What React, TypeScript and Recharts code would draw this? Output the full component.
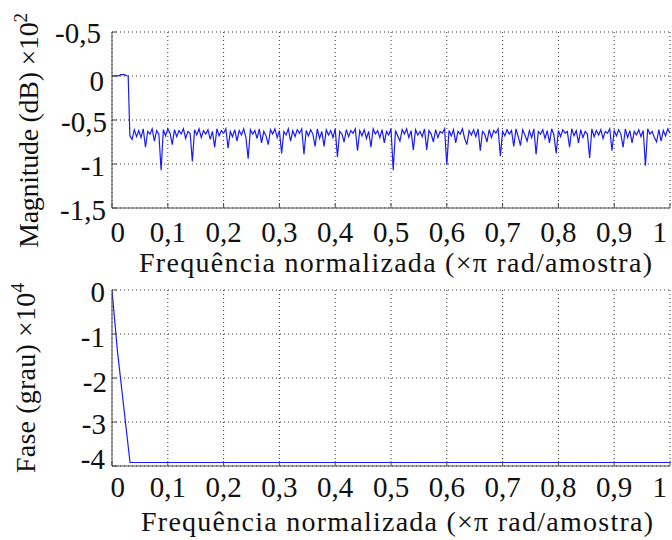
import React from 'react';
import { LineChart, Line, XAxis, YAxis, CartesianGrid } from 'recharts';

// frequency axis (×π rad/amostra)
const freqTicks = [0, 0.1, 0.2, 0.3, 0.4, 0.5, 0.6, 0.7, 0.8, 0.9, 1];
const freqTickLabels = ['0', '0,1', '0,2', '0,3', '0,4', '0,5', '0,6', '0,7', '0,8', '0,9', '1'];

// magnitude axis (dB ×10^2)
const magTicks = [0.5, 0, -0.5, -1, -1.5];
const magTickLabels = ['-0,5', '0', '-0,5', '-1', '-1,5'];

// phase axis (grau ×10^4)
const phaseTicks = [0, -1, -2, -3, -4];
const phaseTickLabels = ['0', '-1', '-2', '-3', '-4'];

// passband samples
const passFreq = [0, 0.012, 0.016, 0.022, 0.027, 0.029];
const passMag = [0.002, 0.002, 0.015, 0.015, 0.003, 0.0];

// stopband samples, every 0.004 starting at 0.032
const stopStart = 0.032;
const stopStep = 0.004;
const stopMag = [
  -0.68, -0.72, -0.61, -0.69, -0.62, -0.70, -0.60, -0.81, -0.63, -0.66,
  -0.60, -0.74, -0.62, -0.66, -1.07, -0.61, -0.68, -0.60, -0.65, -0.78,
  -0.61, -0.69, -0.62, -0.66, -0.60, -0.71, -0.63, -0.65, -0.97, -0.61,
  -0.67, -0.60, -0.70, -0.62, -0.66, -0.61, -0.72, -0.63, -0.81, -0.60,
  -0.68, -0.62, -0.65, -0.60, -0.82, -0.63, -0.69, -0.61, -0.74, -0.62,
  -0.67, -0.60, -0.70, -0.94, -0.61, -0.66, -0.62, -0.71, -0.60, -0.76,
  -0.63, -0.68, -0.78, -0.61, -0.66, -0.60, -0.70, -0.62, -0.88, -0.63,
  -0.67, -0.60, -0.74, -0.62, -0.69, -0.61, -0.65, -0.60, -0.89, -0.62,
  -0.68, -0.61, -0.66, -0.80, -0.60, -0.71, -0.63, -0.80, -0.61, -0.67,
  -0.62, -0.70, -0.60, -0.92, -0.63, -0.66, -0.75, -0.61, -0.69, -0.62,
  -0.65, -0.60, -0.85, -0.62, -0.68, -0.61, -0.71, -0.63, -0.81, -0.60,
  -0.66, -0.62, -0.70, -0.61, -0.76, -0.63, -0.67, -0.60, -1.07, -0.62,
  -0.68, -0.74, -0.61, -0.66, -0.60, -0.70, -0.62, -0.84, -0.61, -0.67,
  -0.63, -0.69, -0.60, -0.84, -0.62, -0.66, -0.75, -0.61, -0.70, -0.63,
  -0.65, -0.60, -1.01, -0.62, -0.68, -0.61, -0.76, -0.63, -0.66, -0.60,
  -0.71, -0.78, -0.62, -0.67, -0.61, -0.69, -0.60, -0.85, -0.63, -0.66,
  -0.75, -0.61, -0.70, -0.62, -0.65, -0.60, -0.91, -0.63, -0.68, -0.61,
  -0.66, -0.62, -0.80, -0.60, -0.69, -0.79, -0.61, -0.67, -0.74, -0.62,
  -0.70, -0.60, -0.89, -0.63, -0.66, -0.61, -0.71, -0.62, -0.76, -0.60,
  -0.67, -0.88, -0.62, -0.69, -0.61, -0.65, -0.63, -0.81, -0.60, -0.68,
  -0.62, -0.76, -0.61, -0.70, -0.63, -0.66, -0.93, -0.60, -0.69, -0.62,
  -0.67, -0.61, -0.71, -0.63, -0.65, -0.60, -0.85, -0.62, -0.68, -0.61,
  -0.66, -0.81, -0.60, -0.70, -0.62, -0.76, -0.63, -0.67, -0.61, -0.69,
  -0.62, -1.02, -0.60, -0.66, -0.63, -0.70, -0.75, -0.61, -0.74, -0.62,
  -0.68, -0.60, -0.65,
];

// phase response
const phaseFreq = [0, 0.0095, 0.0323, 1];
const phaseDeg = [0, -1.36, -3.92, -3.92];

const magData = [
  ...passFreq.map((f, i) => ({ f, mag: passMag[i] })),
  ...stopMag.map((mag, i) => ({ f: +(stopStart + i * stopStep).toFixed(4), mag })),
];
const phaseData = phaseFreq.map((f, i) => ({ f, ph: phaseDeg[i] }));

const FONT = '"Liberation Serif", "Times New Roman", serif';
const INK = '#111';
const BOX = '#4a4a4a';
const BLUE = '#1a1aff';

const magLabelShift: Record<string, { dx: number; dy: number }> = {
  '0.5': { dx: -4, dy: 11 },
  '0': { dx: -1, dy: 15 },
  '-0.5': { dx: 2, dy: 12 },
  '-1': { dx: 0, dy: 12 },
  '-1.5': { dx: 1, dy: 12 },
};
const phaseLabelShift: Record<string, { dx: number; dy: number }> = {
  '0': { dx: 0, dy: 12 },
  '-1': { dx: 0, dy: 13 },
  '-2': { dx: 2, dy: 14 },
  '-3': { dx: 1, dy: 12 },
  '-4': { dx: 0, dy: 3 },
};

function bottomTick(base: number) {
  return (props: any) => {
    const { x, y, payload } = props;
    const i = freqTicks.indexOf(payload.value);
    let anchor: 'middle' | 'start' | 'end' = 'middle';
    let tx = x;
    if (payload.value === 0) { anchor = 'start'; tx = x - 1.5; }
    if (payload.value === 1) { anchor = 'end'; tx = x - 3; }
    return (
      <g>
        <line x1={x} x2={x} y1={y} y2={y - 5} stroke={BOX} />
        <text x={tx} y={y + base} textAnchor={anchor} fontSize={29} fontFamily={FONT} fill={INK}>
          {freqTickLabels[i]}
        </text>
      </g>
    );
  };
}

function leftTick(ticks: number[], labels: string[], shift: Record<string, { dx: number; dy: number }>) {
  return (props: any) => {
    const { x, y, payload } = props;
    const i = ticks.indexOf(payload.value);
    const s = shift[String(payload.value)] || { dx: 0, dy: 12 };
    return (
      <g>
        <line x1={x} x2={x + 5} y1={y} y2={y} stroke={BOX} />
        <text x={x - 7 + s.dx} y={y + s.dy} textAnchor="end" fontSize={29} fontFamily={FONT} fill={INK}>
          {labels[i]}
        </text>
      </g>
    );
  };
}

const topTick = (props: any) => (
  <line x1={props.x} x2={props.x} y1={props.y} y2={props.y + 5} stroke={BOX} />
);
const rightTick = (props: any) => (
  <line x1={props.x} x2={props.x - 5} y1={props.y} y2={props.y} stroke={BOX} />
);

function Panel({
  data, dataKey, domain, yTicks, yLabels, shift, top, xHeight, labelBase,
}: {
  data: any[]; dataKey: string; domain: [number, number]; yTicks: number[]; yLabels: string[];
  shift: Record<string, { dx: number; dy: number }>; top: number; xHeight: number; labelBase: number;
}) {
  return (
    <LineChart width={672} height={270} data={data} margin={{ top, right: 2, bottom: 0, left: 0 }}>
      <CartesianGrid stroke="#333" strokeDasharray="1 3" />
      <XAxis
        dataKey="f" type="number" domain={[0, 1]} ticks={freqTicks} interval={0} allowDataOverflow
        height={xHeight} tickSize={0} tickMargin={0} axisLine={{ stroke: BOX }} tickLine={false}
        tick={bottomTick(labelBase)}
      />
      <XAxis
        xAxisId="t" orientation="top" dataKey="f" type="number" domain={[0, 1]} ticks={freqTicks} interval={0}
        allowDataOverflow height={0} tickSize={0} tickMargin={0} axisLine={{ stroke: BOX }} tickLine={false}
        tick={topTick}
      />
      <YAxis
        type="number" domain={domain} ticks={yTicks} interval={0} allowDataOverflow width={112}
        tickSize={0} tickMargin={0} axisLine={{ stroke: BOX }} tickLine={false}
        tick={leftTick(yTicks, yLabels, shift)}
      />
      <YAxis
        yAxisId="r" orientation="right" type="number" domain={domain} ticks={yTicks} interval={0}
        allowDataOverflow width={0} tickSize={0} tickMargin={0} axisLine={{ stroke: BOX }} tickLine={false}
        tick={rightTick}
      />
      <Line
        xAxisId="t" yAxisId="r" dataKey={dataKey} stroke="none" dot={false} activeDot={false}
        isAnimationActive={false}
      />
      <Line
        type="linear" dataKey={dataKey} stroke={BLUE} strokeWidth={1.2} dot={false} activeDot={false}
        isAnimationActive={false}
      />
    </LineChart>
  );
}

export default function App() {
  return (
    <div style={{ position: 'fixed', left: 0, top: 0, width: 672, height: 540, background: '#fff' }}>
      <div style={{ position: 'absolute', left: 0, top: 0 }}>
        <Panel
          data={magData} dataKey="mag" domain={[-1.5, 0.5]} yTicks={magTicks} yLabels={magTickLabels}
          shift={magLabelShift} top={32} xHeight={62} labelBase={34}
        />
      </div>
      <div style={{ position: 'absolute', left: 0, top: 270 }}>
        <Panel
          data={phaseData} dataKey="ph" domain={[-4, 0]} yTicks={phaseTicks} yLabels={phaseTickLabels}
          shift={phaseLabelShift} top={20} xHeight={74} labelBase={31}
        />
      </div>
      <svg
        width={672} height={540}
        style={{ position: 'absolute', left: 0, top: 0, pointerEvents: 'none' }}
        fontFamily={FONT} fill={INK}
      >
        <text x={395.5} y={272} textAnchor="middle" fontSize={28} textLength={513} lengthAdjust="spacing">
          Frequência normalizada (×π rad/amostra)
        </text>
        <text x={397} y={531} textAnchor="middle" fontSize={28} textLength={512} lengthAdjust="spacing">
          Frequência normalizada (×π rad/amostra)
        </text>
        <text transform="translate(38,130.5) rotate(-90)" textAnchor="middle" fontSize={28} textLength={235} lengthAdjust="spacing">
          Magnitude (dB) ×10<tspan fontSize={19} dy={-11}>2</tspan>
        </text>
        <text transform="translate(35,378) rotate(-90)" textAnchor="middle" fontSize={28} textLength={190} lengthAdjust="spacing">
          Fase (grau) ×10<tspan fontSize={19} dy={-11}>4</tspan>
        </text>
      </svg>
    </div>
  );
}
